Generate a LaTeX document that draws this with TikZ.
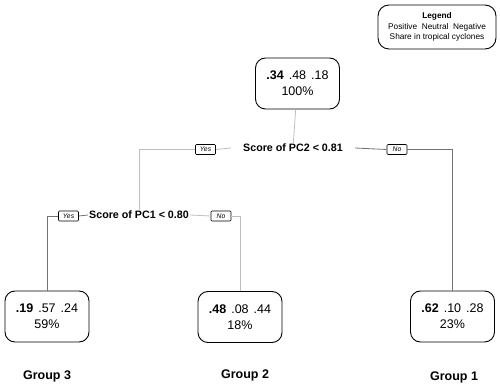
\documentclass[tikz,border=0pt]{standalone}
\usepackage{fontspec}
\setmainfont{Liberation Sans}
\usepackage{tikz}
\usetikzlibrary{calc,positioning}
\definecolor{lightbranch}{rgb}{0.75,0.75,0.75}
\definecolor{darkbranch}{rgb}{0.45,0.45,0.45}
\newcommand{\gap}{\hspace{5pt}}
\tikzset{
	leafbox/.style={
		draw, rectangle, rounded corners=10pt, line width=0.9pt,
		minimum width=84pt, minimum height=51pt,
		align=center, inner sep=2pt, text=black,
		font=\fontsize{12.5}{16}\selectfont
	},
	legendbox/.style={
		draw, rectangle, rounded corners=11pt, line width=0.9pt,
		minimum width=118pt, minimum height=44pt,
		align=center, inner sep=2pt,
		font=\fontsize{8.3}{10.5}\selectfont
	},
	splitlabel/.style={
		font=\bfseries\fontsize{10.7}{12}\selectfont, inner ysep=1pt
	},
	answer/.style={
		draw, rectangle, rounded corners=1pt, line width=0.6pt,
		minimum width=20pt, minimum height=10pt, inner sep=0.5pt,
		font=\itshape\fontsize{6.8}{7}\selectfont
	},
	grouplabel/.style={
		font=\bfseries\fontsize{12.5}{14}\selectfont
	},
	light_branch/.style={draw=lightbranch, line width=0.8pt},
	dark_branch/.style={draw=darkbranch, line width=0.8pt}
}
\begin{document}
\begin{tikzpicture}[x=1pt, y=-1pt]
				\useasboundingbox (0,0) rectangle (500,387);
				\node[legendbox] (legend) at (437,27) {\textbf{Legend}\\Positive\ \ Neutral\ \ Negative\\Share in tropical cyclones};
				\node[leafbox] (root) at (297.5,83.5) {\textbf{.34}\gap.48\gap.18\\100\%};
				\node[splitlabel, inner xsep=12pt] (pc2) at (293,148) {Score of PC2 < 0.81};
				\node[answer] (yes1) at (205.5,149.5) {Yes};
				\node[answer] (no1) at (397,149.5) {No};
				\node[splitlabel, inner xsep=1pt] (pc1) at (139,215) {Score of PC1 < 0.80};
				\node[answer] (yes2) at (68.5,216) {Yes};
				\node[answer] (no2) at (221,216) {No};
				\node[leafbox] (g3) at (47,316.5) {\textbf{.19}\gap.57\gap.24\\59\%};
				\node[leafbox] (g2) at (240,317) {\textbf{.48}\gap.08\gap.44\\18\%};
				\node[leafbox] (g1) at (452.5,316.5) {\textbf{.62}\gap.10\gap.28\\23\%};
				\node[grouplabel] (grp3) at (47,376) {Group 3};
				\node[grouplabel] (grp2) at (245,375) {Group 2};
				\node[grouplabel] (grp1) at (454,377) {Group 1};
				\draw[light_branch] (root) -- (pc2);
				\draw[light_branch] (pc2.west) -- (yes1.east);
				\draw[light_branch] (yes1.west) -| (pc1.north);
				\draw[dark_branch] (pc2.east) -- (no1.west);
				\draw[dark_branch] (no1.east) -| (g1.north);
				\draw[dark_branch] (pc1.west) -- (yes2.east);
				\draw[dark_branch] (yes2.west) -| (g3.north);
				\draw[light_branch] (pc1.east) -- (no2.west);
				\draw[light_branch] (no2.east) -| (g2.north);
			\end{tikzpicture}
\end{document}
